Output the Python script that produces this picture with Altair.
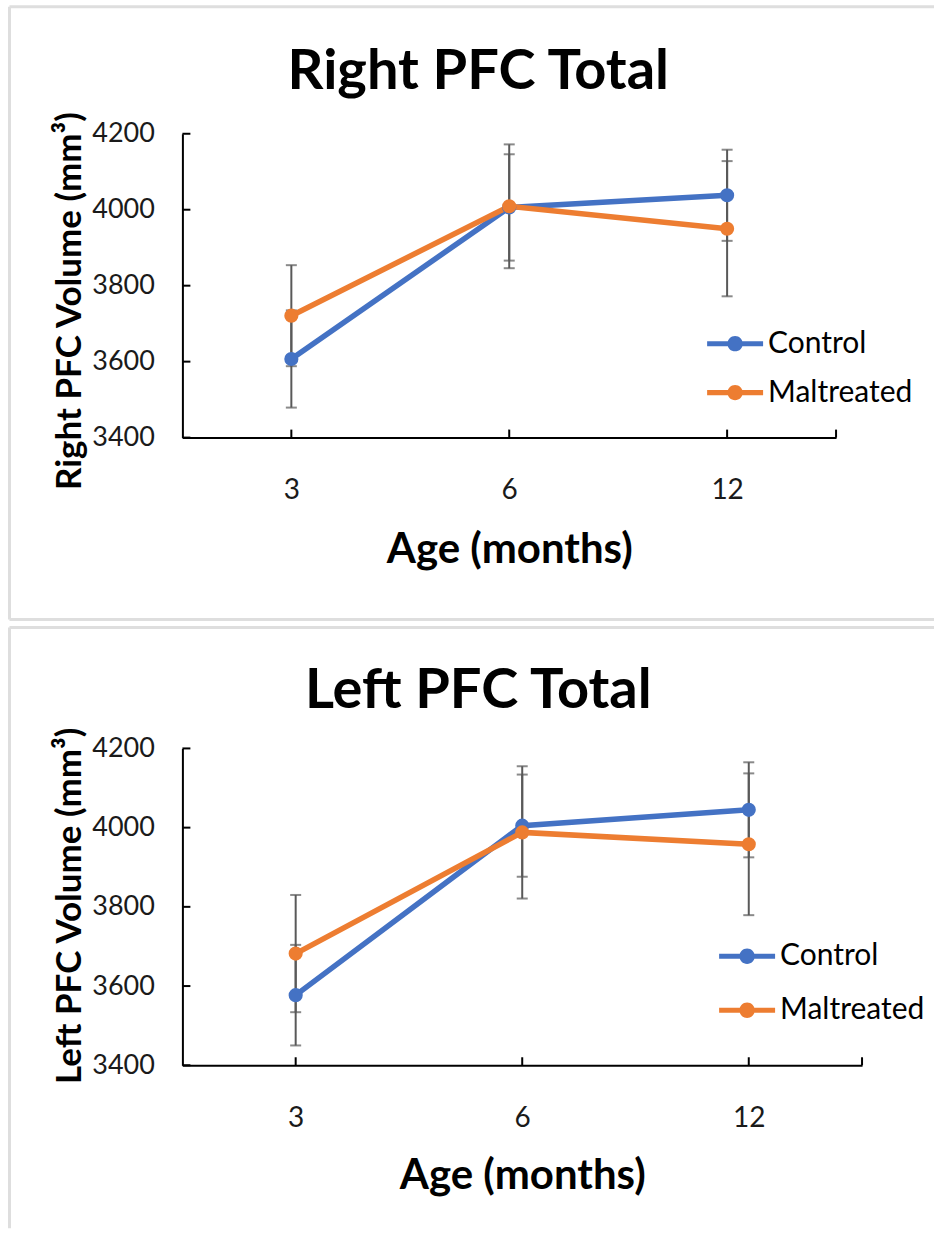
import altair as alt
import pandas as pd

# ---------------- data ----------------
ages = ["3", "6", "12"]
groups = ["Control", "Maltreated"]

right_control = [3607, 4006, 4038]
right_control_se = [128, 140, 120]
right_maltreated = [3721, 4009, 3950]
right_maltreated_se = [133, 163, 178]

left_control = [3577, 4005, 4045]
left_control_se = [127, 129, 120]
left_maltreated = [3682, 3988, 3958]
left_maltreated_se = [148, 167, 179]

y_ticks = [3400, 3600, 3800, 4000, 4200]
series_colors = ["#4472C4", "#ED7D31"]

FONT = "Lato"
TXT = "#1a1a1a"
ERR = "#595959"
FRAME = "#dedede"

# legend symbol: line segment with a dot in the middle
LEG_PATH = ("M-2,-0.18H-0.45V0.18H-2Z "
            "M0.45,-0.18H2V0.18H0.45Z "
            "M0.55,0A0.55,0.55 0 1,1 -0.55,0A0.55,0.55 0 1,1 0.55,0Z")


def make_df(ctrl, ctrl_se, mal, mal_se):
    rows = []
    for g, vals, ses in [("Control", ctrl, ctrl_se), ("Maltreated", mal, mal_se)]:
        for a, v, s in zip(ages, vals, ses):
            rows.append({"age": a, "group": g, "volume": v, "lo": v - s, "hi": v + s})
    return pd.DataFrame(rows)


def panel(df, title, ytitle, w, h, title_x, title_y, ytitle_y, xtitle_y,
          leg_x, leg_y, leg_row, fr_top, fr_bottom, draw_bottom):
    yscale = alt.Scale(domain=[3400, 4200], nice=False, zero=False)
    xscale = alt.Scale(type="point", padding=0.5, domain=ages)
    x_axis = alt.Axis(title="Age (months)", grid=False, ticks=False, tickSize=0,
                      domainColor="#000000", domainWidth=2, labelAngle=0,
                      labelFont=FONT, labelFontSize=28, labelColor=TXT,
                      labelPadding=61, labelBaseline="alphabetic",
                      titleFont=FONT, titleFontSize=42, titleFontWeight="bold",
                      titleColor="#000000", titleY=xtitle_y, titleBaseline="alphabetic")
    y_axis = alt.Axis(title=ytitle, values=y_ticks, format="d", grid=False, ticks=False, tickSize=0,
                      domainColor="#000000", domainWidth=2,
                      labelFont=FONT, labelFontSize=27, labelColor=TXT, labelPadding=28,
                      titleFont=FONT, titleFontSize=35, titleFontWeight="bold",
                      titleColor="#000000", titleAngle=270, titleX=-102, titleY=ytitle_y,
                      titleBaseline="alphabetic", titleAlign="center")
    xe = alt.X("age:N", sort=ages, scale=xscale, axis=x_axis)

    def ye(field):
        return alt.Y(field, type="quantitative", scale=yscale, axis=y_axis)

    legend = alt.Legend(title=None, orient="none", legendX=leg_x, legendY=leg_y,
                        symbolType=LEG_PATH, symbolSize=784,
                        symbolStrokeWidth=0, symbolOpacity=1,
                        labelFont=FONT, labelFontSize=30, labelColor="#000000",
                        labelOffset=18, rowPadding=leg_row, padding=0)
    cscale = alt.Scale(domain=groups, range=series_colors)
    color = alt.Color("group:N", scale=cscale, legend=legend)

    base = alt.Chart(df)
    one = alt.Chart(pd.DataFrame({"k": [0]}))

    err_rule = base.mark_rule(color=ERR, strokeWidth=2).encode(x=xe, y=ye("lo"), y2="hi:Q")
    err_lo = base.mark_tick(color=ERR, thickness=2, size=11).encode(x=xe, y=ye("lo"))
    err_hi = base.mark_tick(color=ERR, thickness=2, size=11).encode(x=xe, y=ye("hi"))

    lines = base.mark_line(strokeWidth=5.5).encode(
        x=xe, y=ye("volume"), color=color)
    points = base.mark_point(filled=True, size=200, opacity=1).encode(
        x=xe, y=ye("volume"), color=color)

    ytick_df = pd.DataFrame({"v": y_ticks})
    ytk = alt.Chart(ytick_df).mark_rule(color="#000000", strokeWidth=2).encode(
        y=ye("v"), x=alt.value(0), x2=alt.value(8))
    xtick_df = pd.DataFrame({"age": ages})
    xtk = alt.Chart(xtick_df).mark_rule(color="#000000", strokeWidth=2).encode(
        x=xe, y=alt.value(h - 8), y2=alt.value(h))
    xend = one.mark_rule(color="#000000", strokeWidth=2).encode(
        x=alt.value(w), y=alt.value(h - 8), y2=alt.value(h))

    ttl = one.mark_text(text=title, font=FONT, fontSize=56, fontWeight="bold",
                        color="#000000", align="center", baseline="alphabetic").encode(
        x=alt.value(title_x), y=alt.value(title_y))

    fr_left = one.mark_rule(color=FRAME, strokeWidth=3).encode(
        x=alt.value(-173), y=alt.value(fr_top), y2=alt.value(fr_bottom))
    fr_topline = one.mark_rule(color=FRAME, strokeWidth=3).encode(
        x=alt.value(-173), x2=alt.value(752), y=alt.value(fr_top))
    layers = [fr_left, fr_topline]
    if draw_bottom:
        layers.append(one.mark_rule(color=FRAME, strokeWidth=3).encode(
            x=alt.value(-173), x2=alt.value(752), y=alt.value(fr_bottom)))
    layers += [ttl, err_rule, err_lo, err_hi, lines, points, ytk, xtk, xend]

    return alt.layer(*layers).properties(width=w, height=h)


right_df = make_df(right_control, right_control_se, right_maltreated, right_maltreated_se)
left_df = make_df(left_control, left_control_se, left_maltreated, left_maltreated_se)

top = panel(right_df, "Right PFC Total", "Right PFC Volume (mm³)", 654, 304,
            title_x=296, title_y=-45, ytitle_y=167, xtitle_y=125,
            leg_x=538, leg_y=195, leg_row=19, fr_top=-127, fr_bottom=486, draw_bottom=True)
bottom = panel(left_df, "Left PFC Total", "Left PFC Volume (mm³)", 680, 317,
               title_x=296, title_y=-40, ytitle_y=157, xtitle_y=123,
               leg_x=550, leg_y=193, leg_row=24, fr_top=-121, fr_bottom=480, draw_bottom=False)

chart = alt.vconcat(top, bottom, spacing=4).resolve_scale(color="independent").resolve_legend(
    color="independent").properties(
    padding={"top": 4.5, "left": 7.5, "right": 0, "bottom": 0},
    background="white").configure_view(stroke=None)

chart.save("out.html", embed_options={"renderer": "svg", "actions": False})
